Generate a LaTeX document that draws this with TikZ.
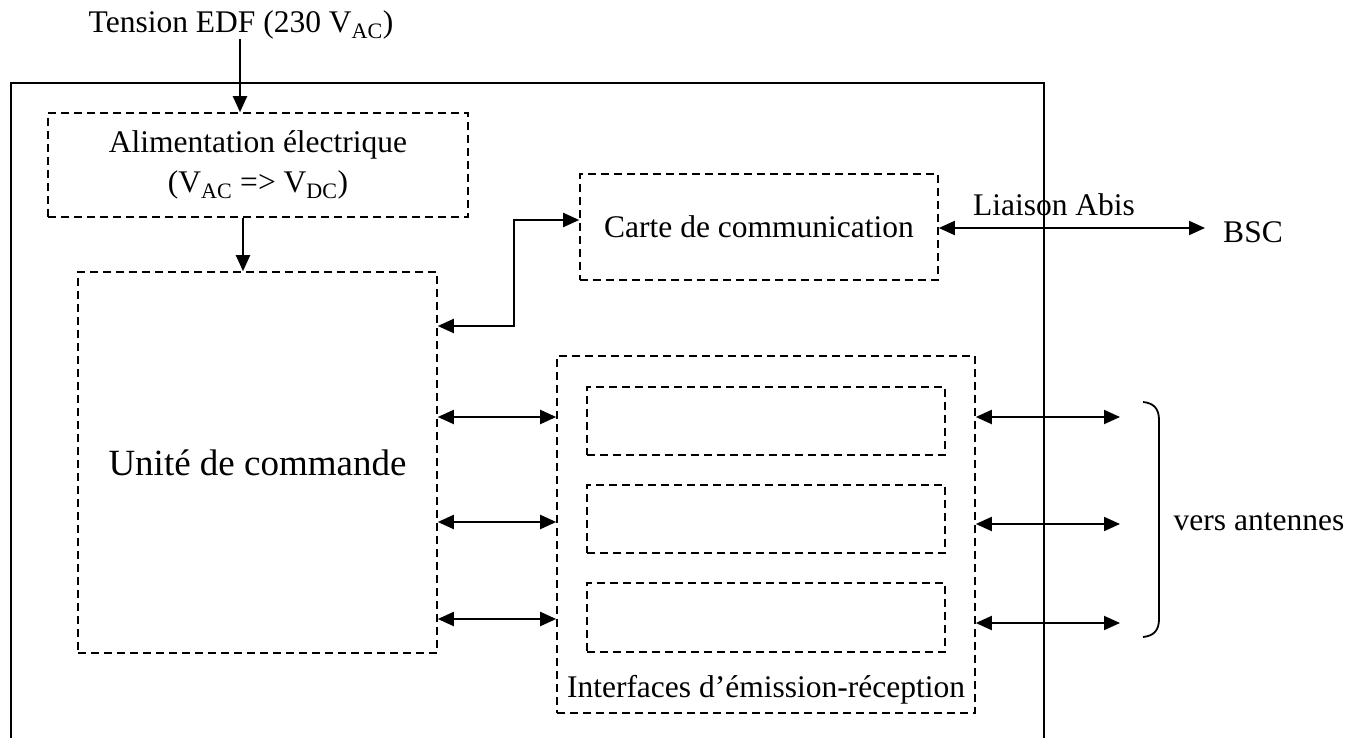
\documentclass[tikz,border=0pt]{standalone}
\usepackage{fontspec}
\setmainfont{Liberation Serif}
\usetikzlibrary{arrows.meta}
\begin{document}
\begin{tikzpicture}[x=1pt,y=-1pt,
  font=\fontsize{31.5}{38}\selectfont,
  dbox/.style={draw, dash pattern=on 8pt off 5pt, line width=1.6pt, inner sep=0pt, align=center},
  lbl/.style={inner sep=0pt},
  arr/.style={line width=2pt, -{Triangle[length=16pt,width=14pt]}},
  darr/.style={line width=2pt, {Triangle[length=16pt,width=14pt]}-{Triangle[length=16pt,width=14pt]}}]
\useasboundingbox (0,0) rectangle (1349,738);

% outer frame
\draw[line width=2.2pt] (11,738) -- (11,83) -- (1044,83) -- (1044,738);

% texts and boxes
\node[lbl] (title) at (241,25) {Tension EDF (230 V\textsubscript{AC})};
\node[dbox, minimum width=420pt, minimum height=104pt] (alim) at (258,165)
  {Alimentation électrique\\[2pt](V\textsubscript{AC} => V\textsubscript{DC})};
\node[dbox, minimum width=359pt, minimum height=381pt, font=\fontsize{37}{44}\selectfont] (unite) at (257.5,462.5) {Unité de commande};
\node[dbox, minimum width=358pt, minimum height=106pt] (carte) at (759,227) {Carte de communication};
\node[dbox, minimum width=418pt, minimum height=357pt] (iface) at (766,534.5) {};
\node[lbl] (ifacelbl) at (766,690) {Interfaces d’émission-réception};
\node[dbox, minimum width=358pt, minimum height=68pt] (tr1) at (766,421) {};
\node[dbox, minimum width=358pt, minimum height=68pt] (tr2) at (766,519) {};
\node[dbox, minimum width=358pt, minimum height=69pt] (tr3) at (766,617.5) {};
\node[lbl] (bsc) at (1253,232) {BSC};
\node[lbl] (abis) at (1054,205) {Liaison Abis};
\node[lbl] (ant) at (1259,522) {vers antennes};

\coordinate (bscin) at (1205,228);
\coordinate (a1) at (1120,417);
\coordinate (a2) at (1120,524);
\coordinate (a3) at (1120,623);

% connectors
\draw[arr] (title.south -| 240,0) -- (alim.north -| 240,0);
\draw[arr] (alim.south -| 243,0) -- (unite.north -| 243,0);
\draw[darr] (unite.east |- 0,326) -| (514,220) -- (carte.west |- 0,220);
\draw[darr] (carte.east |- bscin) -- (bscin);

\draw[darr] (unite.east |- 0,417) -- (iface.west |- 0,417);
\draw[darr] (unite.east |- 0,522) -- (iface.west |- 0,522);
\draw[darr] (unite.east |- 0,619) -- (iface.west |- 0,619);

\draw[darr] (iface.east |- a1) -- (a1);
\draw[darr] (iface.east |- a2) -- (a2);
\draw[darr] (iface.east |- a3) -- (a3);

% brace
\draw[line width=1.8pt] (1143,402) .. controls (1154,403) and (1159,409) .. (1159,420)
  -- (1159,619) .. controls (1159,630) and (1154,636) .. (1143,637);
\end{tikzpicture}
\end{document}
